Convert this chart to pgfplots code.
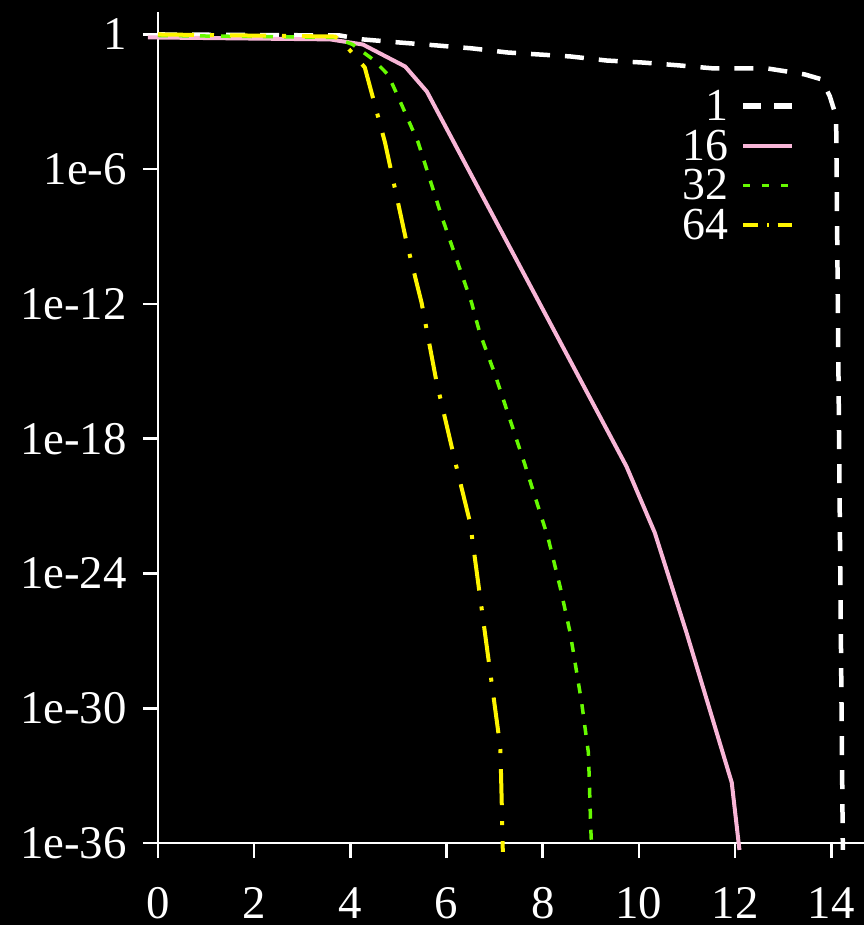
\documentclass[border=0pt]{standalone}
\usepackage{fontspec}
\setmainfont{Liberation Serif}
\usepackage{pgfplots}
\pgfplotsset{compat=1.18}
\definecolor{pinkc}{RGB}{248,182,215}
\definecolor{greenc}{RGB}{102,250,0}
\definecolor{yellowc}{RGB}{255,245,0}
\begin{document}
\begin{tikzpicture}
\path[use as bounding box, fill=black] (-158bp,-82bp) rectangle (706bp,843bp);
\clip (-158bp,-82bp) rectangle (706bp,843bp);
\begin{axis}[
  at={(0,0)}, anchor=south west,
  scale only axis, width=706bp, height=831bp,
  xmin=0, xmax=14.68, ymin=1e-36, ymax=10,
  ymode=log, clip=false,
  axis lines=left, axis line style={white, line width=2.5bp, -},
  tick align=outside, major tick length=15bp,
  tick style={white, line width=2.5bp},
  xminorticks=false, yminorticks=false,
  xtick={0,2,4,6,8,10,12,14}, xticklabels={0,2,4,6,8,10,12,14},
  ytick={1,1e-6,1e-12,1e-18,1e-24,1e-30,1e-36},
  yticklabels={1,1e-6,1e-12,1e-18,1e-24,1e-30,1e-36},
  tick label style={font=\fontsize{47}{47}\selectfont, text=white, inner sep=0pt},
  xticklabel style={yshift=-29bp},
  yticklabel style={xshift=-16bp},
  legend plot pos=right, legend cell align=right,
  legend image code/.code={\draw[#1] (0bp,0bp) -- (49bp,0bp);},
  legend style={draw=none, fill=none, text=white, font=\fontsize{46}{46}\selectfont,
    at={(0.9023,0.9061)}, anchor=north east, inner sep=0pt, outer sep=0pt,
    row sep=8bp, column sep=12bp, nodes={inner sep=0pt}},
]
\addlegendimage{white, line width=6bp, dash pattern=on 18bp off 13bp}
\addlegendentry{1}
\addlegendimage{pinkc, line width=4bp}
\addlegendentry{16}
\addlegendimage{greenc, line width=3bp, dash pattern=on 7bp off 12bp}
\addlegendentry{32}
\addlegendimage{yellowc, line width=4bp, dash pattern=on 15bp off 9bp on 1.5bp off 9bp}
\addlegendentry{64}

% series 1 (white dashed)
\addplot[forget plot, white, line width=4.5bp, dash pattern=on 19bp off 15bp] coordinates {
(0,1) (3.78,0.90) (4.26,0.603) (5.03,0.437) (5.80,0.324) (6.53,0.240) (7.26,0.158)
(8.57,0.105) (9.33,0.0692) (10.08,0.0562) (10.85,0.0417) (11.54,0.0309) (12.66,0.0309)
(13.08,0.0224) (13.45,0.0166) (13.80,0.01) (13.97,1.74e-3) (14.10,2.24e-4) (14.24,4.9e-37)
};
% series 16 (pink solid)
\addplot[forget plot, pinkc, line width=4bp] coordinates {
(-0.21,0.74) (3.58,0.603) (4.26,0.357) (5.14,0.0373) (5.59,2.88e-3) (9.74,5.9e-20)
(10.33,6.5e-23) (10.99,2.3e-27) (11.93,4.9e-34) (12.09,4.9e-37)
};
% series 32 (green short dash)
\addplot[forget plot, greenc, line width=3.5bp, dash pattern=on 10bp off 11bp] coordinates {
(0,0.90) (3.68,0.74) (4.05,0.355) (4.47,0.0776) (4.78,0.0166) (4.99,1.74e-3) (5.41,1.55e-5)
(5.90,7.8e-9) (6.52,1.15e-12) (6.69,5.2e-14) (7.01,7.1e-16) (7.63,6.9e-20) (7.78,6.6e-21)
(8.11,3.9e-23) (8.36,2.6e-25) (8.57,2.3e-27) (8.81,1.74e-30) (8.95,1.02e-32) (9.00,3.8e-36)
(9.02,4.9e-37)
};
% series 64 (yellow dash-dot)
\addplot[forget plot, yellowc, line width=4bp, dash pattern=on 36bp off 16bp on 4bp off 16bp] coordinates {
(0,1) (3.68,0.81) (3.83,0.49) (4.30,0.0339) (4.72,1.55e-5) (5.17,5.4e-10) (5.48,1.15e-12)
(5.79,3.5e-16) (6.17,1.15e-19) (6.49,1.8e-22) (7.07,1.07e-31) (7.12,1.38e-32) (7.15,3.6e-35)
(7.17,4.0e-37)
};
\end{axis}
\end{tikzpicture}
\end{document}
